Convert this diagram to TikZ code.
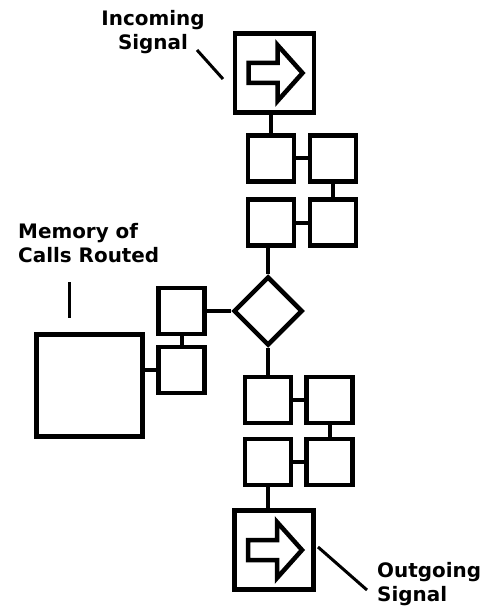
\documentclass[tikz,border=0pt]{standalone}
\usepackage{fontspec}
\setmainfont{DejaVu Sans}
\usetikzlibrary{shapes.geometric}
\tikzset{
    cell/.style={draw, line width=4.5bp, rectangle, minimum size=46bp, inner sep=0pt},
    port/.style={draw, line width=4.5bp, rectangle, minimum size=79bp, inner sep=0pt},
    store/.style={draw, line width=4.5bp, rectangle, minimum width=106bp, minimum height=102bp, inner sep=0pt},
    switch/.style={draw, line width=4.5bp, diamond, minimum size=69bp, inner sep=0pt},
    link/.style={line width=4bp},
    lead/.style={line width=3bp},
    signal/.style={line width=4.5bp, line join=miter},
    caption/.style={font=\bfseries\fontsize{20}{24}\selectfont, inner sep=0pt},
}

\begin{document}
\begin{tikzpicture}[x=1bp, y=-1bp]
        \useasboundingbox (0, 0) rectangle (485, 607);
        %ports, switch and memory
        \node[port] (in) at (274.5, 73) {};
        \node[port] (out) at (274, 550) {};
        \node[switch] (sw) at (268, 311) {};
        \node[store] (mem) at (89.5, 385.5) {};
        %cells on the incoming side
        \node[cell] (a1) at (271, 158.5) {};
        \node[cell] (b1) at (333, 158.5) {};
        \node[cell] (a2) at (271, 222.5) {};
        \node[cell] (b2) at (333, 222.5) {};
        %cells on the outgoing side
        \node[cell] (c1) at (268, 400) {};
        \node[cell] (d1) at (329.5, 400) {};
        \node[cell] (c2) at (268, 462) {};
        \node[cell] (d2) at (329.5, 462) {};
        %cells next to the memory
        \node[cell] (m1) at (181.5, 311) {};
        \node[cell] (m2) at (181.5, 370) {};
        %hollow arrows inside the ports
        \draw[signal, shift={(in.center)}] (-26, -10) -- (3, -10) -- (3, -28) -- (28, 0) -- (3, 28) -- (3, 10) -- (-26, 10) -- cycle;
        \draw[signal, shift={(out.center)}] (-26, -10) -- (3, -10) -- (3, -28) -- (28, 0) -- (3, 28) -- (3, 10) -- (-26, 10) -- cycle;
        %wires
        \draw[link] (a1.north) -- (a1.north |- in.south);
        \draw[link] (a1) -- (b1);
        \draw[link] (b1) -- (b2);
        \draw[link] (a2) -- (b2);
        \draw[link] (sw.north |- a2.south) -- (sw.north);
        \draw[link] (sw.south) -- (c1.north);
        \draw[link] (c1) -- (d1);
        \draw[link] (d1) -- (d2);
        \draw[link] (c2) -- (d2);
        \draw[link] (c2.south) -- (c2.south |- out.north);
        \draw[link] (m1) -- (sw.west);
        \draw[link] (m1) -- (m2);
        \draw[link] (m2.west) -- (m2.west -| mem.east);
        %labels and their leader lines
        \node[caption, align=center, anchor=north] (inlabel) at (153, 10) {Incoming\\Signal};
        \node[caption, align=left, anchor=north west] (memlabel) at (18, 223) {Memory of\\Calls Routed};
        \node[caption, align=left, anchor=north west] (outlabel) at (377, 562) {Outgoing\\Signal};
        \coordinate (inlead) at (197, 50);
        \coordinate (inend) at (223, 79);
        \coordinate (memlead) at (69, 282);
        \coordinate (memend) at (69, 318);
        \coordinate (outlead) at (318, 547);
        \coordinate (outend) at (367, 590);
        \draw[lead] (inlead) -- (inend);
        \draw[lead] (memlead) -- (memend);
        \draw[lead] (outlead) -- (outend);
    \end{tikzpicture}
\end{document}
